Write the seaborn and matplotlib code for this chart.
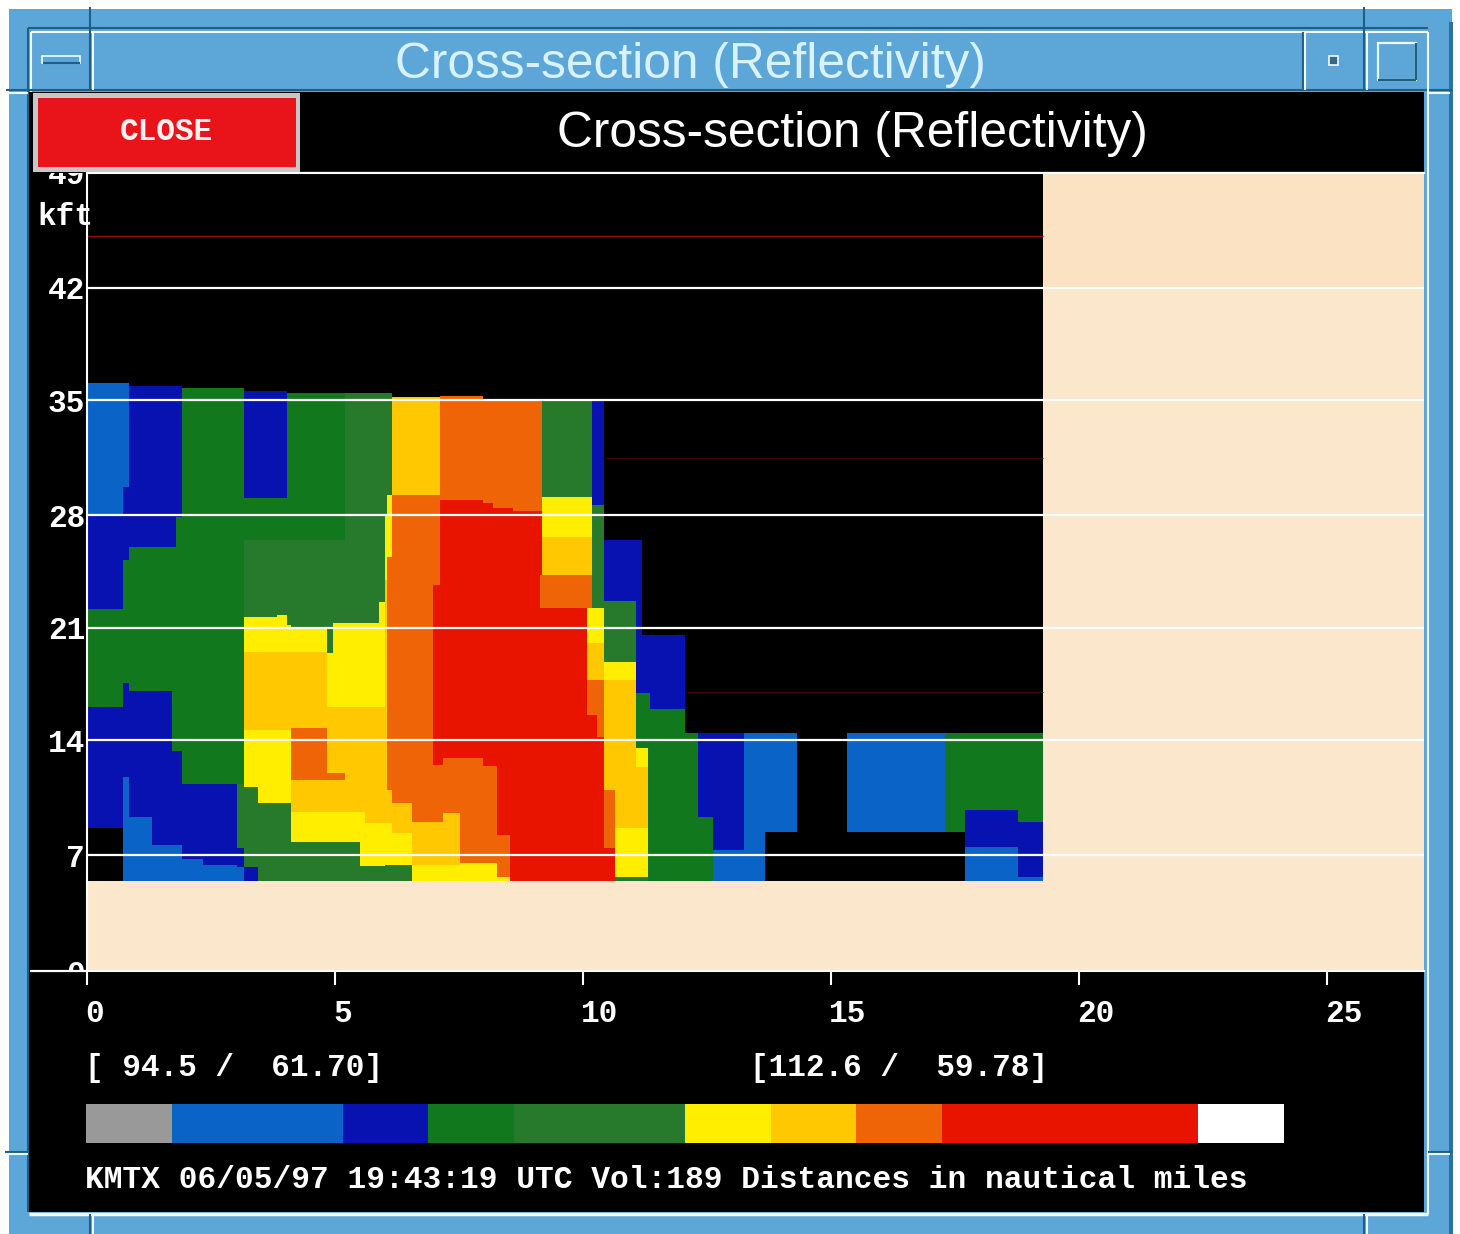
import numpy as np
import matplotlib
matplotlib.use("Agg")
import matplotlib.pyplot as plt
from matplotlib.colors import ListedColormap
from matplotlib.patches import Rectangle
from matplotlib.transforms import Bbox, ScaledTranslation
import seaborn as sns

W, H = 1460, 1234

# reflectivity colour levels
K, L, D, G, S, Y, A, O, R, B, E, T, C = range(13)
level_colors = ["#000000", "#0a64c8", "#0812b0", "#12781e", "#27792c", "#ffee00",
                "#ffc800", "#f06408", "#e81400", "#fbe8cc", "#999999", "#ffffff", "#fae2c3"]

TOP_KFT = 48.96
MAX_NM = 26.96
DATA_END_NM = 19.28
BAND_KFT = 41.9

# left edge of each range column, nautical miles
col_left = [0.00, 0.71, 0.83, 1.31, 1.73, 1.81, 1.92, 2.34, 3.02, 3.15, 3.45, 3.85, 4.03, 4.13,
            4.84, 4.96, 5.20, 5.50, 5.60, 5.87, 6.01, 6.05, 6.17, 6.55, 6.98, 7.12, 7.18, 7.52,
            7.98, 8.19, 8.27, 8.53, 8.59, 9.13, 9.19, 10.08, 10.18, 10.28, 10.42, 10.65, 11.09,
            11.19, 11.31, 11.35, 12.06, 12.32, 12.62, 13.23, 13.67, 14.31, 15.32, 17.30, 17.70, 18.79]

# echo top of each column, kft
col_top = [36.07, 36.07, 35.89, 35.89, 35.89, 35.89, 35.77, 35.77, 35.77, 35.58, 35.58, 35.58, 35.46, 35.46,
           35.46, 35.46, 35.46, 35.46, 35.46, 35.46, 35.46, 35.46, 35.20, 35.20, 35.20, 35.28, 35.28, 35.28,
           35.03, 35.03, 35.03, 35.03, 35.03, 35.03, 35.03, 35.03, 35.03, 35.03, 26.44, 26.44, 26.44,
           20.61, 20.61, 20.61, 14.60, 14.60, 14.60, 14.60, 14.60, 14.60, 14.60, 14.60, 14.60, 14.60]

# each column top-down: (level, lower bound in kft)
col_runs = [
    [(L, 27.98), (D, 22.21), (G, 16.20), (D, 8.83), (K, 5.58)],
    [(L, 29.69), (D, 25.21), (G, 17.67), (D, 11.90), (L, 5.58)],
    [(D, 26.01), (G, 17.18), (D, 9.45), (L, 5.58)],
    [(D, 26.01), (G, 17.18), (D, 7.73), (L, 5.58)],
    [(D, 26.01), (G, 13.50), (D, 7.73), (L, 5.58)],
    [(D, 27.85), (G, 13.50), (D, 7.73), (L, 5.58)],
    [(G, 11.53), (D, 6.93), (L, 5.58)],
    [(G, 11.53), (D, 6.50), (L, 5.58)],
    [(G, 11.53), (S, 7.55), (D, 6.38), (L, 5.58)],
    [(D, 29.02), (G, 26.44), (S, 21.72), (Y, 19.57), (A, 14.79), (Y, 11.29), (S, 6.38), (D, 5.58)],
    [(D, 29.02), (G, 26.44), (S, 21.72), (Y, 19.57), (A, 14.79), (Y, 10.31), (S, 5.58)],
    [(D, 29.02), (G, 26.44), (S, 21.84), (Y, 19.57), (A, 14.79), (Y, 10.31), (S, 5.58)],
    [(G, 26.44), (S, 21.23), (Y, 19.57), (A, 14.79), (Y, 10.31), (S, 5.58)],
    [(G, 26.44), (S, 21.10), (Y, 19.57), (A, 14.91), (O, 11.72), (A, 9.75), (Y, 7.91), (S, 5.58)],
    [(G, 26.44), (S, 19.51), (Y, 16.20), (A, 12.15), (O, 11.72), (A, 9.75), (Y, 7.91), (S, 5.58)],
    [(G, 26.44), (S, 21.35), (Y, 16.20), (A, 12.15), (O, 11.72), (A, 9.75), (Y, 7.91), (S, 5.58)],
    [(S, 21.35), (Y, 16.20), (A, 9.75), (Y, 7.91), (S, 5.58)],
    [(S, 21.35), (Y, 16.20), (A, 9.75), (Y, 6.44), (S, 5.58)],
    [(S, 21.35), (Y, 16.20), (A, 9.08), (Y, 6.44), (S, 5.58)],
    [(S, 22.64), (Y, 16.20), (A, 9.08), (Y, 6.44), (S, 5.58)],
    [(S, 27.98), (Y, 23.99), (A, 9.08), (Y, 6.50), (S, 5.58)],
    [(S, 29.20), (Y, 25.40), (O, 11.10), (A, 9.08), (Y, 6.50), (S, 5.58)],
    [(A, 29.20), (O, 10.31), (A, 8.47), (Y, 6.50), (S, 5.58)],
    [(A, 29.20), (O, 9.14), (A, 6.50), (Y, 5.58)],
    [(A, 29.20), (O, 23.68), (R, 12.64), (O, 9.14), (A, 6.50), (Y, 5.58)],
    [(O, 28.90), (R, 12.64), (O, 9.14), (A, 6.50), (Y, 5.58)],
    [(O, 28.90), (R, 13.07), (O, 9.69), (A, 6.50), (Y, 5.58)],
    [(O, 28.90), (R, 13.07), (O, 6.63), (Y, 5.58)],
    [(O, 28.71), (R, 12.58), (O, 6.63), (Y, 5.58)],
    [(O, 28.40), (R, 12.58), (O, 6.63), (Y, 5.58)],
    [(O, 28.40), (R, 8.34), (O, 5.77), (Y, 5.58)],
    [(O, 28.40), (R, 5.58)],
    [(O, 28.22), (R, 5.58)],
    [(O, 28.22), (R, 24.29), (O, 22.27), (R, 5.58)],
    [(S, 29.08), (Y, 26.63), (A, 24.29), (O, 22.27), (R, 5.58)],
    [(S, 29.08), (Y, 26.63), (A, 24.29), (O, 22.27), (Y, 20.12), (A, 17.85), (O, 15.71), (R, 5.58)],
    [(D, 28.59), (S, 22.27), (Y, 20.12), (A, 17.85), (O, 15.71), (R, 5.58)],
    [(D, 28.59), (S, 22.27), (Y, 20.12), (A, 17.85), (O, 14.36), (R, 5.58)],
    [(D, 22.70), (S, 18.96), (Y, 17.85), (A, 11.10), (O, 7.55), (R, 5.58)],
    [(D, 22.70), (S, 18.96), (Y, 17.85), (A, 8.77), (Y, 5.77), (S, 5.58)],
    [(D, 17.06), (G, 13.68), (Y, 12.52), (A, 8.77), (Y, 5.77), (S, 5.58)],
    [(D, 17.06), (G, 13.68), (Y, 12.52), (A, 8.77), (Y, 5.77), (S, 5.58)],
    [(D, 17.06), (G, 5.58)],
    [(D, 16.07), (G, 5.58)],
    [(G, 5.58)],
    [(D, 9.45), (G, 5.58)],
    [(D, 7.42), (L, 5.52)],
    [(L, 5.52)],
    [(L, 8.53), (K, 5.52)],
    [(K, 5.52)],
    [(L, 8.53), (K, 5.52)],
    [(G, 8.53), (K, 5.52)],
    [(G, 9.88), (D, 7.61), (L, 5.52)],
    [(G, 9.14), (D, 5.77), (L, 5.52)],
]

legend_levels = [E, L, L, D, G, S, S, Y, A, O, R, R, R, T]

x_ticks = [0, 5, 10, 15, 20, 25]
y_labels = [0, 7, 14, 21, 28, 35, 42, 49]
# heights at which the picture draws those labels' grid lines, kft
y_lines = [0.0, 7.12, 14.17, 21.04, 27.98, 35.03, 41.9, 48.96]
y_unit = "kft"
title = "Cross-section (Reflectivity)"
button = "CLOSE"
left_coord = "[ 94.5 /  61.70]"
right_coord = "[112.6 /  59.78]"
footer = "KMTX 06/05/97 19:43:19 UTC Vol:189 Distances in nautical miles"

MONO = ["Liberation Mono", "DejaVu Sans Mono"]
SANS = ["Liberation Sans", "DejaVu Sans"]
MONO_SIZE = 22.4
BLUE, DARK, LIGHT = "#5ca6d8", "#1f5f82", "#f4fbff"


def box(px0, py0, px1, py1):
    return [px0 / W, 1 - py1 / H, (px1 - px0) / W, (py1 - py0) / H]


fig = plt.figure(figsize=(W / 100, H / 100), dpi=100, facecolor="white")

# window frame
bg = fig.add_axes([0, 0, 1, 1], zorder=0)
bg.set_xlim(0, W)
bg.set_ylim(H, 0)
bg.axis("off")
bg.add_patch(Rectangle((9, 9), 1443, 1225, fc=BLUE, ec="none"))
bg.add_patch(Rectangle((1449, 22), 4, 1212, fc="#2f7197", ec="none"))
bg.add_patch(Rectangle((29, 92), 1395, 1120, fc="black", ec="none"))


def seg(x0, y0, x1, y1, c=DARK, lw=1.5):
    bg.plot([x0, x1], [y0, y1], color=c, lw=lw, solid_capstyle="butt")


seg(28, 28, 1428, 28)
seg(31, 32, 1428, 32, LIGHT)
seg(28, 28, 28, 1212)
seg(31, 32, 31, 92, LIGHT)
seg(6, 90, 1452, 90)
seg(6, 93, 28, 93, LIGHT)
seg(1428, 93, 1450, 93, LIGHT)
seg(1428, 32, 1428, 1214, LIGHT)
seg(29, 1214, 1428, 1214, LIGHT, 2.5)
for vx in (90, 1364):
    seg(vx, 7, vx, 90)
    seg(vx + 2.5, 32, vx + 2.5, 90, LIGHT)
    seg(vx, 1214, vx, 1234)
    seg(vx + 2.5, 1214, vx + 2.5, 1234, LIGHT)
seg(1303, 32, 1303, 90)
seg(1305, 32, 1305, 90, LIGHT)
seg(5, 1152, 28, 1152)
seg(5, 1154, 28, 1154, LIGHT)
seg(1428, 1152, 1452, 1152)
seg(1428, 1154, 1450, 1154, LIGHT)
# window buttons
bg.add_patch(Rectangle((42, 56), 38, 7, fc=BLUE, ec=LIGHT, lw=1.2))
seg(43, 63, 80, 63)
bg.add_patch(Rectangle((1329, 56), 9, 9, fc="#34688c", ec=LIGHT, lw=1.2))
bg.add_patch(Rectangle((1378, 43), 38, 37, fc=BLUE, ec=LIGHT, lw=1.6))
seg(1416, 43, 1416, 80, DARK, 1.6)
seg(1378, 80, 1416, 80, DARK, 1.6)
# close button
bg.add_patch(Rectangle((33, 93), 267, 79, fc="#c9c6c8", ec="none"))
bg.add_patch(Rectangle((38, 98), 258, 69, fc="#e8141a", ec="none"))
seg(30, 971, 87, 971, "white", 1.6)
seg(300, 173, 1424, 173, "white", 1.6)

# reflectivity section
DX, DY = 0.02, 0.05
n_cols = int(round(MAX_NM / DX))
n_rows = int(round(TOP_KFT / DY))
grid = np.full((n_rows, n_cols), B, dtype=float)


def xi(nm):
    return int(round(nm / DX))


def yi(kft):
    return int(round((TOP_KFT - kft) / DY))


grid[: yi(BAND_KFT), xi(DATA_END_NM):] = C
edges = col_left + [DATA_END_NM]
for c, (left, top, runs) in enumerate(zip(col_left, col_top, col_runs)):
    c0, c1 = xi(left), xi(edges[c + 1])
    last = runs[-1][1]
    grid[: yi(last), c0:c1] = K
    upper = top
    for level, lower in runs:
        grid[yi(upper): yi(lower), c0:c1] = level
        upper = lower

ax = fig.add_axes(box(87, 173, 1424, 971), zorder=1)
cmap = ListedColormap(level_colors)
sns.heatmap(grid, ax=ax, cmap=cmap, vmin=-0.5, vmax=len(level_colors) - 0.5,
            cbar=False, xticklabels=False, yticklabels=False, rasterized=True)
ax.set_xlim(0, n_cols)
ax.set_ylim(n_rows, 0)

ax.set_xticks([xi(v) for v in x_ticks])
ax.set_xticklabels([str(v) for v in x_ticks], ha="left", family=MONO, weight="bold",
                   fontsize=MONO_SIZE, color="white")
ax.tick_params(axis="x", length=10, width=1.5, color="white", pad=10.4, bottom=True)
shift = ScaledTranslation(-2 / 100, 0, fig.dpi_scale_trans)
for lab in ax.get_xticklabels():
    lab.set_transform(lab.get_transform() + shift)
ax.set_yticks([yi(v) for v in y_lines])
ax.set_yticklabels([str(v) for v in y_labels], family=MONO, weight="bold",
                   fontsize=MONO_SIZE, color="white")
ax.tick_params(axis="y", length=0, pad=1.5, left=False)
clip = Bbox.from_extents(0, H - 971, 300, H - 173)
for lab in ax.get_yticklabels():
    lab.set_clip_box(clip)
    lab.set_clip_on(True)
for name in ("left", "top", "bottom"):
    ax.spines[name].set_visible(True)
    ax.spines[name].set_color("white")
    ax.spines[name].set_linewidth(1.5)
ax.spines["right"].set_visible(False)
ax.hlines([yi(v) for v in y_lines[1:-1]], 0, n_cols, color="white", lw=1.6)
ax.hlines(yi(45.1), 0, xi(DATA_END_NM), color="#8a0c0c", lw=1.0)
ax.hlines(yi(31.47), xi(10.45), xi(DATA_END_NM), color="#3a0606", lw=0.8)
ax.hlines(yi(17.1), xi(12.06), xi(DATA_END_NM), color="#3a0606", lw=0.8)

# colour legend
leg = fig.add_axes(box(86, 1104, 1284, 1143), zorder=1)
sns.heatmap(np.array([legend_levels], dtype=float), ax=leg, cmap=cmap, vmin=-0.5,
            vmax=len(level_colors) - 0.5, cbar=False, xticklabels=False, yticklabels=False)
leg.axis("off")


def label(px, py, s, **kw):
    kw.setdefault("family", MONO)
    kw.setdefault("weight", "bold")
    kw.setdefault("fontsize", MONO_SIZE)
    kw.setdefault("color", "white")
    kw.setdefault("va", "center")
    return fig.text(px / W, 1 - py / H, s, **kw)


label(37, 217, y_unit)
label(166, 132, button, ha="center", color="#fff0f0")
label(85, 1068, left_coord)
label(750, 1068, right_coord)
label(85, 1180, footer, fontsize=22.5)
label(690, 65, title, ha="center", family=SANS, weight="normal", fontsize=35.7, color="#d9f2ff")
label(852, 134, title, ha="center", family=SANS, weight="normal", fontsize=35.7)

fig.savefig("out.png", dpi=100, facecolor="white")
